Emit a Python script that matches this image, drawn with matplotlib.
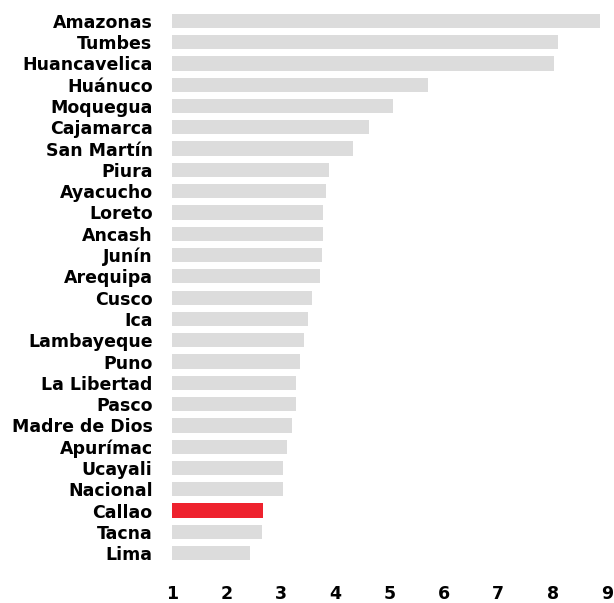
import numpy as np
import matplotlib.pyplot as plt

plt.rcParams['font.family'] = ['DejaVu Sans']

# regions ordered from top to bottom, with their values
regions = ['Amazonas', 'Tumbes', 'Huancavelica', 'Huánuco', 'Moquegua',
           'Cajamarca', 'San Martín', 'Piura', 'Ayacucho', 'Loreto',
           'Ancash', 'Junín', 'Arequipa', 'Cusco', 'Ica', 'Lambayeque',
           'Puno', 'La Libertad', 'Pasco', 'Madre de Dios', 'Apurímac',
           'Ucayali', 'Nacional', 'Callao', 'Tacna', 'Lima']
values = [8.88, 8.10, 8.02, 5.71, 5.06, 4.62, 4.33, 3.88, 3.83, 3.78,
          3.78, 3.75, 3.72, 3.57, 3.51, 3.43, 3.35, 3.28, 3.28, 3.20,
          3.12, 3.04, 3.04, 2.67, 2.65, 2.44]
x_ticks = [1, 2, 3, 4, 5, 6, 7, 8, 9]
highlight = 'Callao'

# bars start at 1, not at 0
base = 1
colors = ['#ee222e' if r == highlight else '#dcdcdc' for r in regions]
y = np.arange(len(regions))

fig = plt.figure(figsize=(6.14, 6.03), dpi=100)
ax = fig.add_axes([172/614, 1 - 566/603, (607 - 172)/614, (566 - 8)/603])

ax.barh(y, np.array(values) - base, left=base, height=0.67, color=colors)

ax.set_xlim(1, 9)
ax.set_ylim(len(regions) - 0.4, -0.6)
ax.set_yticks(y)
ax.set_yticklabels(regions, fontsize=12.5, fontweight='bold')
ax.set_xticks(x_ticks)
ax.set_xticklabels([str(t) for t in x_ticks], fontsize=12.5, fontweight='bold')
ax.tick_params(axis='y', length=0, pad=14)
ax.tick_params(axis='x', length=0, pad=14)
for s in ax.spines.values():
    s.set_visible(False)

fig.savefig('out.png', dpi=100)
